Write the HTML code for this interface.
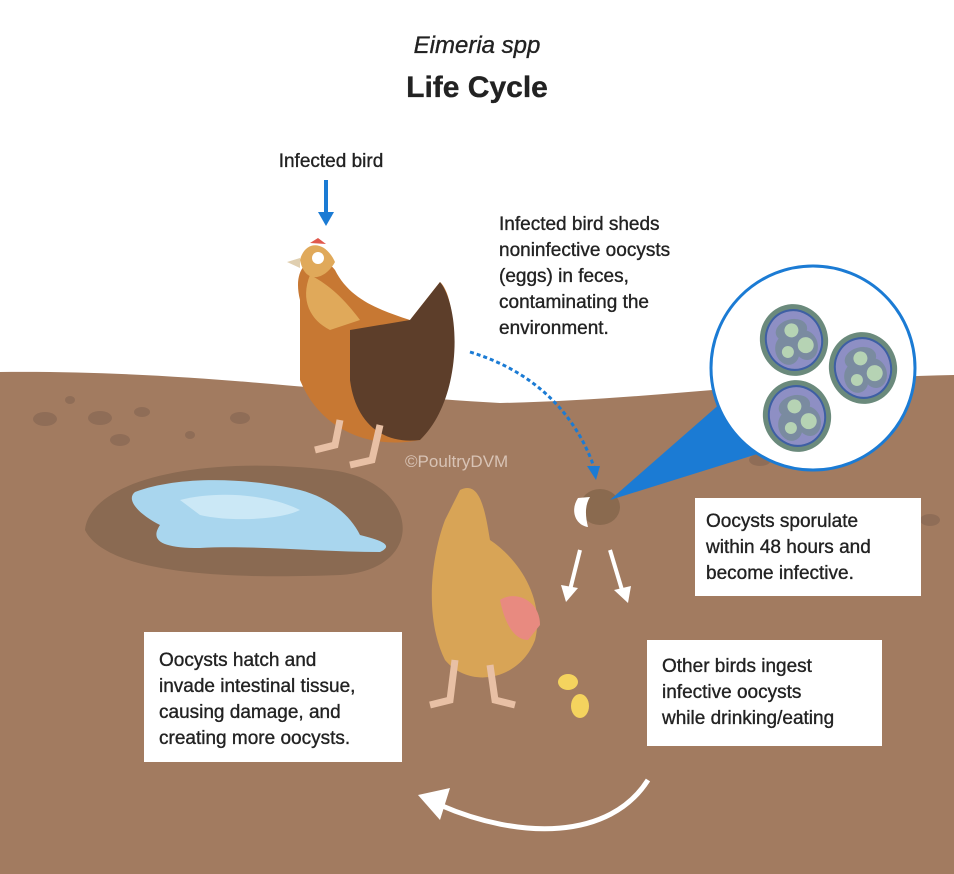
<!DOCTYPE html>
<html><head><style>
html,body{margin:0;padding:0;background:#fff}
svg{display:block}
text{font-family:"Liberation Sans",sans-serif;fill:#222}
.t text{stroke:#222;stroke-width:0.35}
</style></head><body>
<svg width="954" height="874" viewBox="0 0 954 874" xmlns="http://www.w3.org/2000/svg">
<rect width="954" height="874" fill="#fff"/>
<path d="M0 372 C200 370 350 395 500 403 C650 400 800 378 954 375 L954 874 L0 874 Z" fill="#a27b60"/>
<g fill="#8b6a55" opacity="0.8">
<ellipse cx="45" cy="419" rx="12" ry="7"/><ellipse cx="100" cy="418" rx="12" ry="7"/><ellipse cx="142" cy="412" rx="8" ry="5"/>
<ellipse cx="120" cy="440" rx="10" ry="6"/><ellipse cx="70" cy="400" rx="5" ry="4"/><ellipse cx="240" cy="418" rx="10" ry="6"/>
<ellipse cx="930" cy="520" rx="10" ry="6"/><ellipse cx="760" cy="460" rx="11" ry="6"/><ellipse cx="190" cy="435" rx="5" ry="4"/>
</g>
<path d="M85 530 C90 480 200 455 330 470 C420 480 430 570 340 575 C260 578 110 580 85 530 Z" fill="#8a6a52"/>
<path d="M135 492 C180 475 250 478 300 490 C330 498 350 515 360 535 C380 540 395 545 380 552 C320 552 250 545 200 548 C160 548 150 540 160 525 C140 515 125 500 135 492 Z" fill="#a9d6ee"/>
<path d="M180 500 C220 490 270 495 300 510 C280 520 230 522 200 515 Z" fill="#cbe8f6"/>
<g class="t">
<text x="477" y="53" font-size="24" font-style="italic" text-anchor="middle">Eimeria spp</text>
<text x="477" y="97" font-size="30" font-weight="bold" text-anchor="middle">Life Cycle</text>
<text x="331" y="167" font-size="19" text-anchor="middle">Infected bird</text>
<g font-size="19"><text x="499" y="230">Infected bird sheds</text><text x="499" y="256">noninfective oocysts</text><text x="499" y="282">(eggs) in feces,</text><text x="499" y="308">contaminating the</text><text x="499" y="334">environment.</text></g>
</g>
<line x1="326" y1="180" x2="326" y2="215" stroke="#1b7bd4" stroke-width="4"/>
<path d="M318 212 L334 212 L326 226 Z" fill="#1b7bd4"/>
<!-- bird 1 -->
<path d="M300 300 C290 260 320 250 335 270 C350 300 380 310 410 320 L440 282 C460 300 460 400 420 440 C370 450 320 430 300 380 Z" fill="#c77833"/>
<path d="M310 275 C330 285 345 300 360 320 L330 330 C310 320 300 300 310 275 Z" fill="#e0a95a"/>
<path d="M350 330 L410 320 L440 282 C462 310 462 400 420 440 C380 445 355 420 350 380 Z" fill="#5d3e2a"/>
<path d="M300 260 C305 240 325 240 335 262 C325 280 305 285 300 260 Z" fill="#e0a95a"/>
<circle cx="318" cy="258" r="6" fill="#fff"/><path d="M287 262 L300 258 L300 268 Z" fill="#e0cfb0"/>
<path d="M310 243 L318 238 L326 244 Z" fill="#e0584c"/>
<path d="M340 420 L335 445 L315 450 M380 425 L372 460 L350 465" stroke="#e8c0a5" stroke-width="7" fill="none"/>
<path d="M470 352 C530 370 575 410 595 470" stroke="#1b7bd4" stroke-width="3" stroke-dasharray="4 3" fill="none"/>
<path d="M587 466 L600 466 L596 480 Z" fill="#1b7bd4"/>
<text x="405" y="467" font-family="Liberation Serif" font-size="17" style="fill:#d8c3b5">©PoultryDVM</text>
<!-- feces -->
<ellipse cx="600" cy="507" rx="20" ry="18" fill="#8a6a4f"/>
<path d="M578 498 C570 510 575 525 588 527 C585 515 585 505 590 497 Z" fill="#fff"/>
<path d="M610 500 L730 395 L770 450 Z" fill="#1b7bd4"/>
<circle cx="813" cy="368" r="102" fill="#fff" stroke="#1b7bd4" stroke-width="3"/>
<g>
<g transform="translate(794,340) rotate(-15)"><ellipse rx="34" ry="36" fill="#6b8a7c"/><ellipse rx="28" ry="30" fill="#8e8fc4" stroke="#3e5fa3" stroke-width="2"/><ellipse cx="0" cy="-10" rx="16" ry="11" fill="#7a8ba0"/><ellipse cx="-9" cy="8" rx="12" ry="15" fill="#7a8ba0"/><ellipse cx="10" cy="8" rx="12" ry="15" fill="#7a8ba0"/><circle cx="0" cy="-10" r="7" fill="#b6d3b4"/><circle cx="-9" cy="10" r="6" fill="#b6d3b4"/><circle cx="10" cy="8" r="8" fill="#b6d3b4"/></g>
<g transform="translate(863,368) rotate(-15)"><ellipse rx="34" ry="36" fill="#6b8a7c"/><ellipse rx="28" ry="30" fill="#8e8fc4" stroke="#3e5fa3" stroke-width="2"/><ellipse cx="0" cy="-10" rx="16" ry="11" fill="#7a8ba0"/><ellipse cx="-9" cy="8" rx="12" ry="15" fill="#7a8ba0"/><ellipse cx="10" cy="8" rx="12" ry="15" fill="#7a8ba0"/><circle cx="0" cy="-10" r="7" fill="#b6d3b4"/><circle cx="-9" cy="10" r="6" fill="#b6d3b4"/><circle cx="10" cy="8" r="8" fill="#b6d3b4"/></g>
<g transform="translate(797,416) rotate(-15)"><ellipse rx="34" ry="36" fill="#6b8a7c"/><ellipse rx="28" ry="30" fill="#8e8fc4" stroke="#3e5fa3" stroke-width="2"/><ellipse cx="0" cy="-10" rx="16" ry="11" fill="#7a8ba0"/><ellipse cx="-9" cy="8" rx="12" ry="15" fill="#7a8ba0"/><ellipse cx="10" cy="8" rx="12" ry="15" fill="#7a8ba0"/><circle cx="0" cy="-10" r="7" fill="#b6d3b4"/><circle cx="-9" cy="10" r="6" fill="#b6d3b4"/><circle cx="10" cy="8" r="8" fill="#b6d3b4"/></g>
</g>
<rect x="695" y="498" width="226" height="98" fill="#fff"/>
<g font-size="19" class="t"><text x="706" y="527">Oocysts sporulate</text><text x="706" y="553">within 48 hours and</text><text x="706" y="579">become infective.</text></g>
<!-- white arrows -->
<path d="M580 550 L570 590" stroke="#fff" stroke-width="4"/><path d="M561 585 L578 588 L566 602 Z" fill="#fff"/>
<path d="M610 550 L622 590" stroke="#fff" stroke-width="4"/><path d="M614 590 L631 586 L628 603 Z" fill="#fff"/>
<!-- bird 2 -->
<path d="M460 490 C480 480 485 510 490 540 C520 560 545 600 535 640 C520 680 470 690 445 660 C425 620 430 560 445 520 Z" fill="#d8a456"/>
<path d="M500 600 C515 590 540 600 540 625 L528 640 C515 640 505 625 500 600 Z" fill="#e88a80"/>
<path d="M455 660 L450 700 L430 705 M490 665 L495 700 L515 705" stroke="#e8c0a5" stroke-width="7" fill="none"/>
<ellipse cx="568" cy="682" rx="10" ry="8" fill="#f4d35e"/><ellipse cx="580" cy="706" rx="9" ry="12" fill="#f4d35e"/>
<rect x="647" y="640" width="235" height="106" fill="#fff"/>
<g font-size="19" class="t"><text x="662" y="672">Other birds ingest</text><text x="662" y="698">infective oocysts</text><text x="662" y="724">while drinking/eating</text></g>
<rect x="144" y="632" width="258" height="130" fill="#fff"/>
<g font-size="19" class="t"><text x="159" y="666">Oocysts hatch and</text><text x="159" y="692">invade intestinal tissue,</text><text x="159" y="718">causing damage, and</text><text x="159" y="744">creating more oocysts.</text></g>
<path d="M648 780 C610 840 520 840 440 805" stroke="#fff" stroke-width="5" fill="none"/>
<path d="M418 795 L450 788 L440 820 Z" fill="#fff"/>
</svg>
</body></html>
